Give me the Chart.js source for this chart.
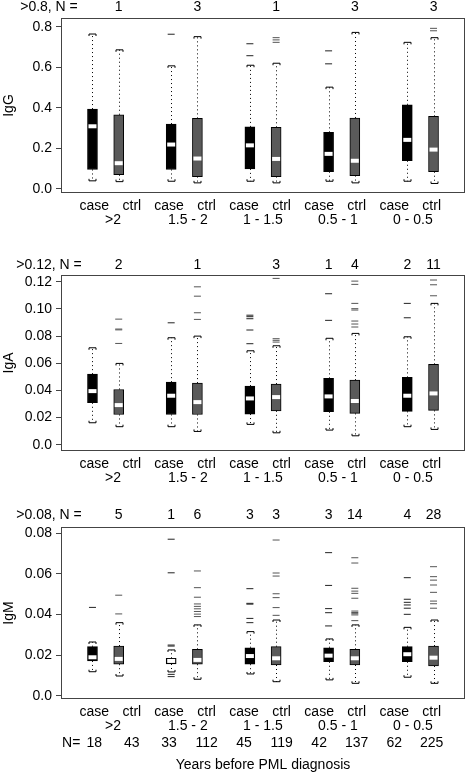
<!DOCTYPE html>
<html>
<head>
<meta charset="utf-8">
<script src="https://cdn.jsdelivr.net/npm/chart.js@4.4.1/dist/chart.umd.min.js"></script>
<style>
  body { margin: 0; background: #fff; }
  #wrap { position: relative; width: 473px; height: 773px; }
  canvas { position: absolute; left: 0; }
</style>
</head>
<body>
<div id="wrap">
  <canvas id="igg" width="473" height="240" style="top:0px"></canvas>
  <canvas id="iga" width="473" height="240" style="top:250px"></canvas>
  <canvas id="igm" width="473" height="273" style="top:500px"></canvas>
</div>
<script>
const boxPos = [1, 2, 4, 5, 7, 8, 10, 11, 13, 14];
// the case/ctrl and N labels sit on their own even spacing, not under the boxes
const labelPos = [1.07, 2.50, 3.92, 5.35, 6.78, 8.21, 9.64, 11.07, 12.50, 13.93];
const roles = ['case', 'ctrl', 'case', 'ctrl', 'case', 'ctrl', 'case', 'ctrl', 'case', 'ctrl'];
const groups = ['>2', '1.5 - 2', '1 - 1.5', '0.5 - 1', '0 - 0.5'];
const totalN = [18, 43, 33, 112, 45, 119, 42, 137, 62, 225];

// IgG
const iggTicks = [0, 0.2, 0.4, 0.6, 0.8];
const iggTickLabels = ['0.0', '0.2', '0.4', '0.6', '0.8'];
const iggLow = [0.040, 0.036, 0.038, 0.030, 0.038, 0.030, 0.038, 0.030, 0.038, 0.027];
const iggQ1 = [0.096, 0.070, 0.096, 0.061, 0.099, 0.061, 0.085, 0.066, 0.139, 0.085];
const iggMed = [0.309, 0.127, 0.219, 0.150, 0.215, 0.148, 0.173, 0.139, 0.242, 0.194];
const iggQ3 = [0.394, 0.366, 0.320, 0.348, 0.306, 0.304, 0.279, 0.350, 0.415, 0.358];
const iggHigh = [0.764, 0.686, 0.607, 0.751, 0.610, 0.620, 0.502, 0.772, 0.723, 0.746];
const iggOut = [[], [], [0.763], [], [0.716, 0.657], [0.746, 0.735, 0.723], [0.681, 0.617], [], [], [0.792, 0.780]];
const iggOver = [null, 1, null, 3, null, 1, null, 3, null, 3];

// IgA
const igaTicks = [0, 0.02, 0.04, 0.06, 0.08, 0.10, 0.12];
const igaTickLabels = ['0.0', '0.02', '0.04', '0.06', '0.08', '0.10', '0.12'];
const igaLow = [0.0162, 0.0133, 0.0133, 0.0098, 0.0150, 0.0088, 0.0108, 0.0066, 0.0133, 0.0113];
const igaQ1 = [0.0309, 0.0223, 0.0223, 0.0223, 0.0226, 0.0250, 0.0243, 0.0231, 0.0246, 0.0253];
const igaMed = [0.0395, 0.0292, 0.0361, 0.0314, 0.0341, 0.0351, 0.0356, 0.0322, 0.0361, 0.0378];
const igaQ3 = [0.0520, 0.0407, 0.0461, 0.0454, 0.0432, 0.0447, 0.0489, 0.0476, 0.0496, 0.0592];
const igaHigh = [0.0714, 0.0599, 0.0788, 0.0800, 0.0692, 0.0729, 0.0784, 0.0820, 0.0795, 0.1041];
const igaOut = [
  [],
  [0.0925, 0.0852, 0.0846, 0.0746],
  [0.0898],
  [0.1163, 0.1094, 0.0972, 0.0923],
  [0.0954, 0.0943, 0.0928, 0.0845, 0.0744],
  [0.1225, 0.0781, 0.0769, 0.0756],
  [0.1112, 0.0916],
  [0.1205, 0.1181, 0.1041, 0.1002, 0.0992, 0.0911, 0.0889, 0.0867],
  [0.1041, 0.0935],
  [0.1213, 0.1178, 0.1097]
];
const igaOver = [null, 2, null, 1, null, 3, 1, 4, 2, 11];

// IgM
const igmTicks = [0, 0.02, 0.04, 0.06, 0.08];
const igmTickLabels = ['0.0', '0.02', '0.04', '0.06', '0.08'];
const igmLow = [0.0119, 0.0098, 0.0118, 0.0082, 0.0108, 0.0070, 0.0079, 0.0062, 0.0092, 0.0062];
const igmQ1 = [0.0172, 0.0156, 0.0157, 0.0156, 0.0156, 0.0152, 0.0168, 0.0152, 0.0168, 0.0147];
const igmMed = [0.0190, 0.0182, 0.0172, 0.0177, 0.0196, 0.0185, 0.0198, 0.0185, 0.0205, 0.0188];
const igmQ3 = [0.0242, 0.0245, 0.0185, 0.0229, 0.0237, 0.0242, 0.0237, 0.0229, 0.0242, 0.0245];
const igmHigh = [0.0265, 0.0360, 0.0226, 0.0349, 0.0316, 0.0373, 0.0280, 0.0349, 0.0337, 0.0373];
const igmOut = [
  [0.0435],
  [0.0495, 0.0403],
  [0.0770, 0.0605, 0.0250, 0.0245, 0.0106, 0.0095],
  [0.0614, 0.0532, 0.0485, 0.0452, 0.0440, 0.0428, 0.0415, 0.0402, 0.0390],
  [0.0527, 0.0455, 0.0451, 0.0381, 0.0360],
  [0.0766, 0.0604, 0.0589, 0.0502, 0.0483, 0.0434, 0.0396],
  [0.0704, 0.0543, 0.0429, 0.0409, 0.0344],
  [0.0679, 0.0653, 0.0529, 0.0515, 0.0504, 0.0480, 0.0417, 0.0410, 0.0404, 0.0398, 0.0370],
  [0.0581, 0.0475, 0.0460, 0.0447, 0.0431, 0.0401],
  [0.0635, 0.0586, 0.0569, 0.0545, 0.0509, 0.0466, 0.0453, 0.0431]
];
const igmOver = [null, 5, 1, 6, 3, 3, 3, 14, 4, 28];

const FAMILY = '"Liberation Sans", Arial, sans-serif';
const FONT = '14px ' + FAMILY;
const caseColor = '#000000';
const ctrlColor = '#5a5a5a';

Chart.defaults.font.family = FAMILY;
Chart.defaults.font.size = 14;
Chart.defaults.color = '#000';

function makePanel(id, p) {
    const boxes = boxPos.map((x, i) => ({x: x, y: [p.q1[i], p.q3[i]]}));
    const medians = boxPos.map((x, i) => ({x: x, y: p.med[i]}));
    const caseOut = [];
    const ctrlOut = [];
    p.out.forEach((vals, i) => {
        vals.forEach(v => (i % 2 == 0 ? caseOut : ctrlOut).push({x: boxPos[i], y: v}));
    });

    // dotted whiskers with bracket caps
    const whiskers = {
        id: 'whiskers',
        afterDatasetsDraw(chart) {
            const ctx = chart.ctx;
            const xs = chart.scales.x;
            const ys = chart.scales.y;
            ctx.save();
            ctx.strokeStyle = '#000';
            ctx.lineWidth = 1;
            boxPos.forEach((pos, i) => {
                const x = Math.round(xs.getPixelForValue(pos)) + 0.5;
                const yHi = ys.getPixelForValue(p.high[i]);
                const yQ3 = ys.getPixelForValue(p.q3[i]);
                const yQ1 = ys.getPixelForValue(p.q1[i]);
                const yLo = ys.getPixelForValue(p.low[i]);
                ctx.setLineDash([1, 3]);
                ctx.beginPath();
                ctx.moveTo(x, yQ3);
                ctx.lineTo(x, yHi);
                ctx.moveTo(x, yQ1);
                ctx.lineTo(x, yLo);
                ctx.stroke();
                ctx.setLineDash([]);
                ctx.beginPath();
                ctx.moveTo(x - 3.5, yHi + 2);
                ctx.lineTo(x - 3.5, yHi);
                ctx.lineTo(x + 3.5, yHi);
                ctx.lineTo(x + 3.5, yHi + 2);
                ctx.moveTo(x - 3.5, yLo - 2);
                ctx.lineTo(x - 3.5, yLo);
                ctx.lineTo(x + 3.5, yLo);
                ctx.lineTo(x + 3.5, yLo - 2);
                ctx.stroke();
            });
            ctx.restore();
        }
    };

    // frame and all the text around the plot
    const frame = {
        id: 'frame',
        afterDraw(chart) {
            const ctx = chart.ctx;
            const a = chart.chartArea;
            const xs = chart.scales.x;
            ctx.save();
            ctx.strokeStyle = '#444';
            ctx.lineWidth = 1;
            ctx.strokeRect(Math.round(a.left) + 0.5, Math.round(a.top) + 0.5,
                Math.round(a.right - a.left) - 1, Math.round(a.bottom - a.top) - 1);

            ctx.font = FONT;
            ctx.fillStyle = '#000';
            ctx.textAlign = 'center';
            ctx.textBaseline = 'alphabetic';
            ctx.fillText(p.overLabel, a.left - 12, a.top + p.topOffset);
            p.over.forEach((n, i) => {
                if (n != null) ctx.fillText(String(n), xs.getPixelForValue(boxPos[i]), a.top + p.topOffset);
            });
            roles.forEach((r, i) => ctx.fillText(r, xs.getPixelForValue(labelPos[i]), a.bottom + 17));
            groups.forEach((g, j) => {
                const gx = (xs.getPixelForValue(labelPos[2 * j]) + xs.getPixelForValue(labelPos[2 * j + 1])) / 2;
                ctx.fillText(g, gx, a.bottom + 31);
            });
            if (p.footer) {
                totalN.forEach((n, i) => ctx.fillText(String(n), xs.getPixelForValue(labelPos[i]), a.bottom + 48));
                ctx.textAlign = 'right';
                ctx.fillText('N=', xs.getPixelForValue(labelPos[0]) - 14, a.bottom + 48);
                ctx.textAlign = 'center';
                ctx.fillText('Years before PML diagnosis', (a.left + a.right) / 2, a.bottom + 70);
            }
            ctx.restore();
        }
    };

    return new Chart(document.getElementById(id), {
        type: 'bar',
        data: {
            datasets: [
                {
                    type: 'bar',
                    data: boxes,
                    backgroundColor: boxPos.map((x, i) => i % 2 == 0 ? caseColor : ctrlColor),
                    borderColor: '#000',
                    borderWidth: 1,
                    borderSkipped: false,
                    barThickness: 10,
                    grouped: false,
                    order: 3
                },
                {
                    type: 'scatter',
                    data: medians,
                    pointStyle: 'line',
                    pointRadius: 4,
                    pointBorderColor: '#fff',
                    borderColor: '#fff',
                    pointBorderWidth: 4,
                    borderWidth: 4,
                    order: 1
                },
                {
                    type: 'scatter',
                    data: caseOut,
                    pointStyle: 'line',
                    pointRadius: 3.5,
                    pointBorderColor: '#222',
                    borderColor: '#222',
                    pointBorderWidth: 1,
                    borderWidth: 1,
                    order: 2
                },
                {
                    type: 'scatter',
                    data: ctrlOut,
                    pointStyle: 'line',
                    pointRadius: 3.5,
                    pointBorderColor: '#555',
                    borderColor: '#555',
                    pointBorderWidth: 1,
                    borderWidth: 1,
                    order: 2
                }
            ]
        },
        options: {
            responsive: false,
            animation: false,
            events: [],
            layout: { padding: { top: p.padTop, bottom: p.padBottom, left: 0, right: 2 } },
            plugins: { legend: { display: false }, tooltip: { enabled: false } },
            scales: {
                x: { type: 'linear', min: -0.2, max: 15.2, display: false, offset: false },
                y: {
                    type: 'linear',
                    min: p.min,
                    max: p.max,
                    afterBuildTicks: s => { s.ticks = p.ticks.map(v => ({value: v})); },
                    afterFit: s => { s.width = 61; },
                    ticks: {
                        callback: (v, i) => p.tickLabels[i],
                        color: '#000',
                        padding: 4,
                        autoSkip: false,
                        font: { size: 14 }
                    },
                    grid: { drawOnChartArea: false, drawTicks: true, tickLength: 5, color: '#444' },
                    border: { display: false },
                    title: {
                        display: true,
                        text: p.title,
                        color: '#000',
                        font: { size: 14 },
                        padding: { top: 1, bottom: 0 }
                    }
                }
            }
        },
        plugins: [whiskers, frame]
    });
}

makePanel('igg', {
    title: 'IgG', overLabel: '>0.8, N =', topOffset: -7,
    low: iggLow, q1: iggQ1, med: iggMed, q3: iggQ3, high: iggHigh, out: iggOut, over: iggOver,
    ticks: iggTicks, tickLabels: iggTickLabels, min: -0.02, max: 0.843,
    padTop: 18, padBottom: 47, footer: false
});

makePanel('iga', {
    title: 'IgA', overLabel: '>0.12, N =', topOffset: -6,
    low: igaLow, q1: igaQ1, med: igaMed, q3: igaQ3, high: igaHigh, out: igaOut, over: igaOver,
    ticks: igaTicks, tickLabels: igaTickLabels, min: -0.0046, max: 0.125,
    padTop: 25, padBottom: 39, footer: false
});

makePanel('igm', {
    title: 'IgM', overLabel: '>0.08, N =', topOffset: -8,
    low: igmLow, q1: igmQ1, med: igmMed, q3: igmQ3, high: igmHigh, out: igmOut, over: igmOver,
    ticks: igmTicks, tickLabels: igmTickLabels, min: -0.0015, max: 0.083,
    padTop: 27, padBottom: 74, footer: true
});
</script>
</body>
</html>
